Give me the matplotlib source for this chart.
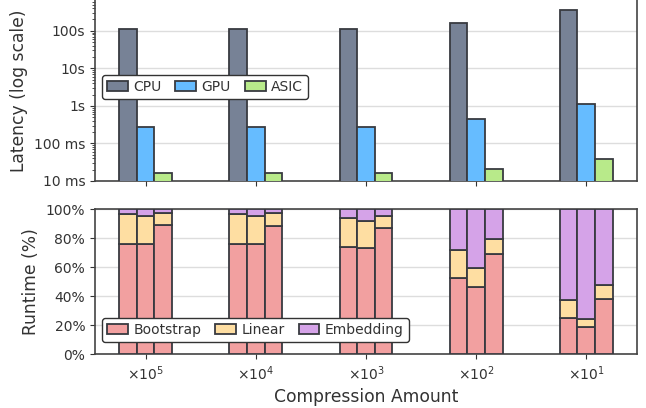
import matplotlib
matplotlib.use("Agg")
import matplotlib.pyplot as plt
import numpy as np
from matplotlib.ticker import FixedLocator, LogLocator, NullFormatter

groups = [r"$\times10^{5}$", r"$\times10^{4}$", r"$\times10^{3}$", r"$\times10^{2}$", r"$\times10^{1}$"]
hw_names = ["CPU", "GPU", "ASIC"]
cpu_lat = [109, 109, 110, 160, 350]
gpu_lat = [0.271, 0.271, 0.277, 0.444, 1.10]
asic_lat = [0.0164, 0.0164, 0.0167, 0.021, 0.038]

# runtime breakdown per group, per hardware bar (CPU, GPU, ASIC)
bootstrap = [[76.3, 75.9, 89.2], [75.9, 76.1, 88.7], [74.0, 73.1, 87.1], [52.9, 46.2, 69.4], [24.8, 18.6, 37.9]]
linear = [[20.7, 19.5, 8.3], [21.1, 19.3, 8.8], [20.3, 19.1, 8.3], [18.8, 13.3, 10.4], [12.4, 5.5, 9.9]]
embedding = [[100 - b - l for b, l in zip(bb, ll)] for bb, ll in zip(bootstrap, linear)]

lat_ticks = [0.01, 0.1, 1, 10, 100]
lat_labels = ["10 ms", "100 ms", "1s", "10s", "100s"]
pct_ticks = [0, 20, 40, 60, 80, 100]
pct_labels = ["0%", "20%", "40%", "60%", "80%", "100%"]

hw_colors = ["#778296", "#66bcff", "#b8ea8a"]
part_colors = ["#f2a0a0", "#fedea2", "#d5a3e8"]
edge = "#383a40"
txt = "#333333"

plt.rcParams["font.family"] = ["DejaVu Sans"]
plt.rcParams["text.color"] = txt
plt.rcParams["axes.labelcolor"] = txt
plt.rcParams["xtick.color"] = txt
plt.rcParams["ytick.color"] = txt
plt.rcParams["axes.edgecolor"] = "#444444"

fig = plt.figure(figsize=(6.46, 4.08), dpi=100)
ax1 = fig.add_axes([0.147, 0.5564, 0.839, 0.4436])
ax2 = fig.add_axes([0.147, 0.1316, 0.839, 0.3554], sharex=ax1)

x = np.arange(len(groups))
w = 0.16
offs = [-w, 0, w]
lats = [cpu_lat, gpu_lat, asic_lat]
for i in range(3):
    ax1.bar(x + offs[i], lats[i], width=w, color=hw_colors[i], edgecolor=edge,
            linewidth=1.3, label=hw_names[i], zorder=3)
ax1.set_yscale("log")
ax1.set_ylim(0.01, 10 ** 2.82)
ax1.yaxis.set_major_locator(FixedLocator(lat_ticks))
ax1.set_yticklabels(lat_labels)
ax1.yaxis.set_minor_locator(LogLocator(base=10, subs=np.arange(2, 10)))
ax1.yaxis.set_minor_formatter(NullFormatter())
ax1.grid(axis="y", color="#dddddd", linewidth=1, zorder=0)
ax1.set_ylabel("Latency (log scale)", fontsize=12.3)
ax1.tick_params(axis="x", labelbottom=False)
ax1.spines["top"].set_visible(False)
ax1.set_xlim(-0.46, 4.46)
leg1 = ax1.legend(ncol=3, loc="upper left", bbox_to_anchor=(0.0, 0.625), fontsize=10,
                  framealpha=1, edgecolor="#333333", handlelength=1.5, handletextpad=0.4,
                  columnspacing=1.0, borderpad=0.35)
leg1.set_zorder(5)

parts = [bootstrap, linear, embedding]
part_names = ["Bootstrap", "Linear", "Embedding"]
for j in range(3):
    xs = x + offs[j]
    bottom = np.zeros(len(groups))
    for k in range(3):
        vals = np.array([parts[k][g][j] for g in range(len(groups))])
        ax2.bar(xs, vals, width=w, bottom=bottom, color=part_colors[k], edgecolor=edge,
                linewidth=1.3, label=part_names[k] if j == 0 else None, zorder=3)
        bottom += vals
ax2.set_ylim(0, 100)
ax2.set_yticks(pct_ticks)
ax2.set_yticklabels(pct_labels)
ax2.grid(axis="y", color="#dddddd", linewidth=1, zorder=0)
ax2.set_ylabel("Runtime (%)", fontsize=12.3)
ax2.set_xticks(x)
ax2.set_xticklabels(groups)
ax2.set_xlabel("Compression Amount", fontsize=12.3)
leg2 = ax2.legend(ncol=3, loc="lower left", bbox_to_anchor=(0.0, 0.04), fontsize=10,
                  framealpha=1, edgecolor="#333333", handlelength=1.5, handletextpad=0.4,
                  columnspacing=1.0, borderpad=0.35)
leg2.set_zorder(5)

for ax in (ax1, ax2):
    ax.tick_params(labelsize=10)
    for s in ax.spines.values():
        s.set_linewidth(1.2)

fig.savefig("out.png", dpi=100)
